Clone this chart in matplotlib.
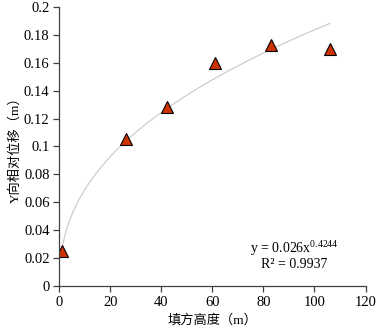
import matplotlib.pyplot as plt
import numpy as np

# measured points
fill_height = [1, 26, 42, 61, 83, 106]
y_disp = [0.025, 0.105, 0.128, 0.160, 0.173, 0.170]

# power fit y = a * x^b
fit_a = 0.026
fit_b = 0.4244
fit_r2 = 0.9937

xticks = [0, 20, 40, 60, 80, 100, 120]
yticks = [0, 0.02, 0.04, 0.06, 0.08, 0.1, 0.12, 0.14, 0.16, 0.18, 0.2]
ytick_labels = ['0', '0.02', '0.04', '0.06', '0.08', '0.1', '0.12', '0.14', '0.16', '0.18', '0.2']

plt.rcParams['font.family'] = ['Liberation Serif', 'Noto Sans CJK SC']
plt.rcParams['font.size'] = 9
plt.rcParams['mathtext.fontset'] = 'custom'
plt.rcParams['mathtext.rm'] = 'Liberation Serif'
plt.rcParams['mathtext.it'] = 'Liberation Serif'

fig = plt.figure(figsize=(3.78, 3.29), dpi=100)
ax = fig.add_axes([0.157, 0.131, 0.81, 0.848])

xf = np.linspace(min(fill_height), max(fill_height), 300)
ax.plot(xf, fit_a * xf ** fit_b, color='#c8c8c8', lw=0.8, zorder=1)
ax.plot(fill_height, y_disp, linestyle='none', marker='^', markersize=8.5,
        markerfacecolor='#cc3300', markeredgecolor='black', markeredgewidth=0.8, zorder=2)

ax.set_xlim(0, 120)
ax.set_ylim(0, 0.2)
ax.set_xticks(xticks)
ax.set_yticks(yticks)
ax.set_yticklabels(ytick_labels)
for s in ['top', 'right']:
    ax.spines[s].set_visible(False)
for s in ['left', 'bottom']:
    ax.spines[s].set_color('#404040')
    ax.spines[s].set_linewidth(0.9)
ax.tick_params(direction='out', length=4, width=0.9, color='#404040', labelsize=10.5)
ax.tick_params(axis='x', pad=3)
ax.tick_params(axis='y', pad=3)

ax.set_xlabel('填方高度（m）', fontsize=9.5, labelpad=4)
ax.set_ylabel('Y向相对位移（m）', fontsize=9.5, labelpad=2)

ax.text(92, 0.0265, r'y = 0.026x$^{\mathrm{0.4244}}$', ha='center', va='center', fontsize=10)
ax.text(92, 0.0155, 'R² = %.4f' % fit_r2, ha='center', va='center', fontsize=10)

fig.savefig('out.png', dpi=100)
